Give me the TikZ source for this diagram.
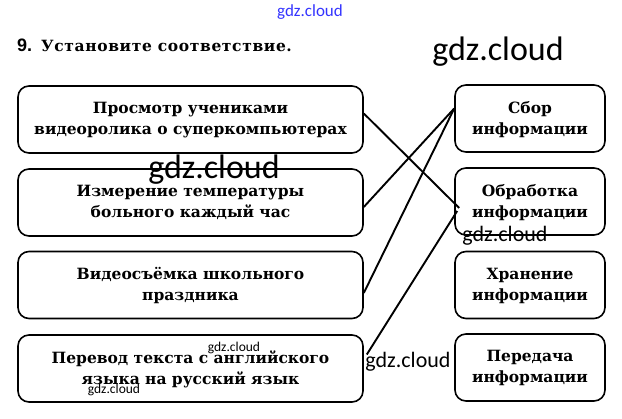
\documentclass[tikz,border=0pt]{standalone}
\usepackage{fontspec}
\setmainfont{DejaVu Serif}
\newfontfamily\titlefont[LetterSpace=4]{DejaVu Serif}
\newfontfamily\wmfont{Carlito}
\newfontfamily\numfont{Liberation Sans}
\usetikzlibrary{calc}

\begin{document}
\begin{tikzpicture}[
  x=1pt, y=-1pt,
  box/.style={draw, line width=1.6pt, rounded corners=11pt, align=center,
    font=\fontsize{15.5}{21}\selectfont\bfseries, inner sep=0pt, text depth=2pt},
  lbox/.style={box, minimum width=345pt, minimum height=67pt},
  rbox/.style={box, minimum width=150pt, minimum height=67pt},
  link/.style={line width=1.9pt},
  wm/.style={font=\wmfont, inner sep=0pt},
]
  \useasboundingbox (0,0) rectangle (622,419);
  % Title
  \node[anchor=base west, inner sep=0pt, font=\fontsize{15.5}{18}\selectfont\bfseries]
    (title) at (17,52) {{\numfont\fontsize{18}{18}\selectfont 9.}\hspace{9pt}{\titlefont Установите соответствие.}};
  % Left column
  \node[lbox] (prosmotr) at (190.5,119.5)
    {Просмотр учениками\\видеоролика о суперкомпьютерах};
  \node[lbox] (izmer) at (190.5,202.5)
    {Измерение температуры\\больного каждый час};
  \node[lbox] (video) at (190.5,285)
    {Видеосъёмка школьного\\праздника};
  \node[lbox] (perevod) at (190.5,368.5)
    {Перевод текста с английского\\языка на русский язык};
  % Right column
  \node[rbox] (sbor) at (530,118.5) {Сбор\\информации};
  \node[rbox] (obrab) at (530,201.5) {Обработка\\информации};
  \node[rbox] (hran) at (530,285) {Хранение\\информации};
  \node[rbox] (pered) at (530,367.5) {Передача\\информации};
  % Answers
  \draw[link] ($(prosmotr.east)+(0,-6)$) -- ($(obrab.west)+(5,6.5)$);
  \draw[link] ($(izmer.east)+(0,4.5)$) -- ($(sbor.west)+(0,-10)$);
  \draw[link] ($(video.east)+(0,8)$) -- ($(sbor.west)+(0,-10)$);
  \draw[link] ($(perevod.east)+(3,-14)$) -- ($(obrab.west)+(3,9.5)$);
  % Watermarks
  \node[wm, text=blue!80, font=\wmfont\fontsize{17}{17}\selectfont] (wm1) at (310,12) {gdz.cloud};
  \node[wm, font=\wmfont\fontsize{34}{34}\selectfont] (wm2) at (498,52) {gdz.cloud};
  \node[wm, font=\wmfont\fontsize{34}{34}\selectfont] (wm3) at (214,170) {gdz.cloud};
  \node[wm, font=\wmfont\fontsize{22}{22}\selectfont] (wm4) at (505,236) {gdz.cloud};
  \node[wm, font=\wmfont\fontsize{22}{22}\selectfont] (wm5) at (408,362) {gdz.cloud};
  \node[wm, font=\wmfont\fontsize{13.5}{13.5}\selectfont] (wm6) at (234,348) {gdz.cloud};
  \node[wm, font=\wmfont\fontsize{13.5}{13.5}\selectfont] (wm7) at (114,390) {gdz.cloud};
\end{tikzpicture}
\end{document}
